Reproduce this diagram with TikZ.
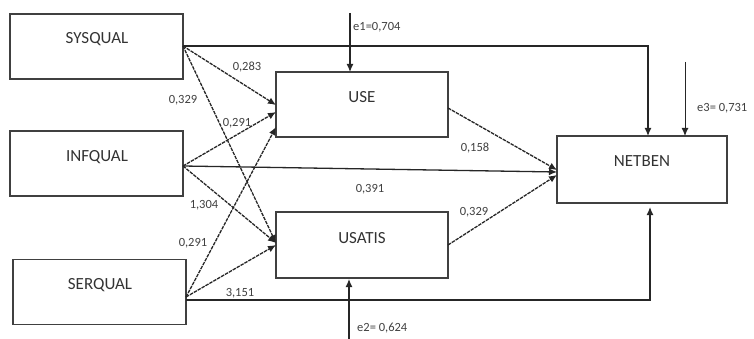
\documentclass[tikz,border=0pt]{standalone}
\usepackage{fontspec}
\setmainfont{Carlito}
\usetikzlibrary{arrows.meta}
\begin{document}
\begin{tikzpicture}[x=1pt,y=-1pt,
  box/.style={draw=black!75,line width=1.3pt,minimum width=173pt,minimum height=65pt,inner sep=0pt},
  btxt/.style={font=\fontsize{17}{19}\selectfont,text=black!80,inner sep=0pt},
  conn/.style={draw=black!85,line width=1.3pt,-{Latex[length=8pt,width=7pt]}},
  dconn/.style={conn,dash pattern=on 3.5pt off 1pt},
  lbl/.style={font=\fontsize{12.5}{14}\selectfont,text=black!75,inner sep=0pt}]
\useasboundingbox (0,0) rectangle (754,339);
% boxes
\node[box] (sys) at (96.5,46.5) {};
\node[box] (inf) at (96.5,163.5) {};
\node[box] (ser) at (99.5,292) {};
\node[box,minimum width=172pt] (use) at (362,104.5) {};
\node[box,minimum width=172pt,minimum height=66pt] (usa) at (362,245) {};
\node[box,minimum width=170pt,minimum height=67pt] (net) at (642,169.5) {};
\node[btxt] (syst) at (97,39.5) {SYSQUAL};
\node[btxt] (inft) at (97,157.5) {INFQUAL};
\node[btxt] (sert) at (100,285) {SERQUAL};
\node[btxt] (uset) at (362,97.5) {USE};
\node[btxt] (usat) at (362,238) {USATIS};
\node[btxt] (nett) at (642,161) {NETBEN};
% coordinates
\coordinate (s0) at (183,46);
\coordinate (i0) at (183,166);
\coordinate (r0) at (186,297);
\coordinate (rr) at (186,300);
\coordinate (u1) at (276,105);
\coordinate (u2) at (276,112);
\coordinate (u3) at (276,127);
\coordinate (a1) at (276,243);
\coordinate (a2) at (276,245);
\coordinate (uo) at (448,108);
\coordinate (ao) at (448,245);
\coordinate (n1) at (557,170);
\coordinate (n2) at (557,172);
\coordinate (n3) at (557,175);
\coordinate (nt) at (648,136);
\coordinate (nb) at (650,207);
\coordinate (e1s) at (350,13);
\coordinate (e1e) at (350,72);
\coordinate (e3s) at (685,62);
\coordinate (e3e) at (685,136);
\coordinate (e2s) at (349,339);
\coordinate (e2e) at (349,279);
% solid connectors
\draw[conn] (s0) -- (648,46) -- (nt);
\draw[conn] (rr) -- (650,300) -- (nb);
\draw[conn] (i0) -- (n2);
\draw[dconn] (uo) -- (n1);
\draw[dconn] (ao) -- (n3);
\draw[conn] (e1s) -- (e1e);
\draw[conn,line width=1pt] (e3s) -- (e3e);
\draw[conn] (e2s) -- (e2e);
% dashed connectors
\draw[dconn] (s0) -- (u1);
\draw[dconn] (s0) -- (a1);
\draw[dconn] (i0) -- (u2);
\draw[dconn] (i0) -- (a1);
\draw[dconn] (r0) -- (u3);
\draw[dconn] (r0) -- (a2);
% labels
\node[lbl,anchor=west] (le1) at (353,27) {e1=0,704};
\node[lbl,anchor=west] (le3) at (697,108) {e3= 0,731};
\node[lbl,anchor=west] (le2) at (357,328) {e2= 0,624};
\node[lbl] (l1) at (247,67) {0,283};
\node[lbl] (l2) at (183,100) {0,329};
\node[lbl] (l3) at (237,123) {0,291};
\node[lbl] (l4) at (204,205) {1,304};
\node[lbl] (l5) at (193,243) {0,291};
\node[lbl] (l6) at (240,293) {3,151};
\node[lbl] (l7) at (370,189) {0,391};
\node[lbl] (l8) at (475,148) {0,158};
\node[lbl] (l9) at (474,212) {0,329};
\end{tikzpicture}
\end{document}
